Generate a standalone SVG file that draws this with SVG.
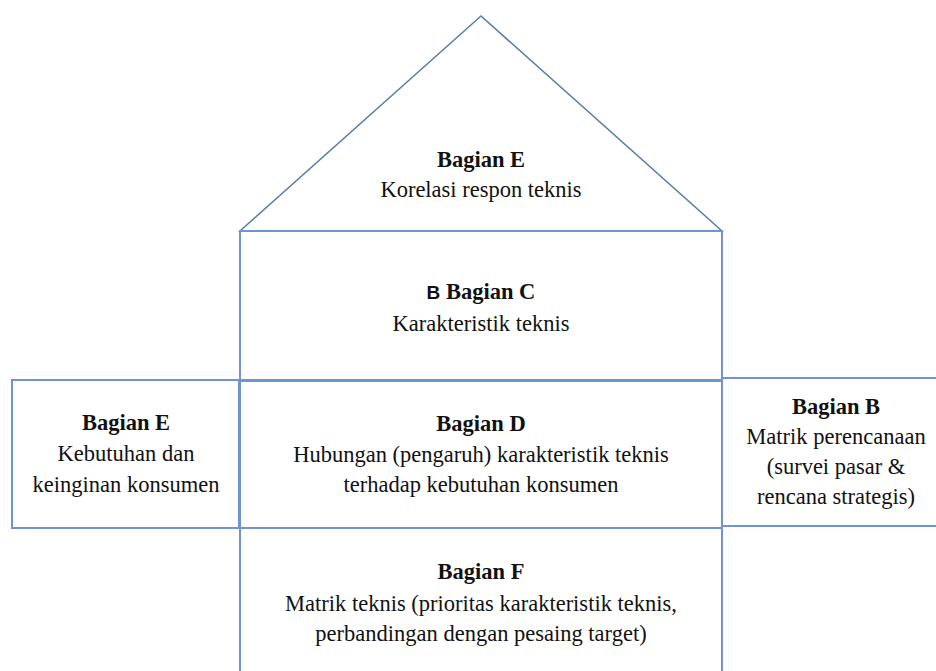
<svg xmlns="http://www.w3.org/2000/svg" width="936" height="671" viewBox="0 0 936 671">
<style>
.sh{fill:#fff;stroke:#6f95cc;stroke-width:2}
.tri{fill:#fff;stroke:#587cab;stroke-width:1.5}
</style>
<rect width="936" height="671" fill="#fff"/>
<g id="roof">
<polygon class="tri" points="481,16 240,231 722,231"/>
<text x="481" y="167" font-family="Liberation Serif" font-size="22.5" fill="#111" text-anchor="middle" font-weight="bold">Bagian E</text>
<text x="481" y="197" font-family="Liberation Serif" font-size="22.5" fill="#111" text-anchor="middle">Korelasi respon teknis</text>
</g>
<g id="bagianC">
<rect class="sh" x="240" y="231" width="482" height="149"/>
<text x="481" y="299" font-family="Liberation Serif" font-size="22.5" fill="#111" text-anchor="middle" font-weight="bold"><tspan font-family="Liberation Sans" font-size="19">B</tspan> Bagian C</text>
<text x="481" y="331" font-family="Liberation Serif" font-size="22.5" fill="#111" text-anchor="middle">Karakteristik teknis</text>
</g>
<g id="bagianA">
<rect class="sh" x="12" y="380" width="227" height="148"/>
<text x="126" y="430" font-family="Liberation Serif" font-size="22.5" fill="#111" text-anchor="middle" font-weight="bold">Bagian E</text>
<text x="126" y="461" font-family="Liberation Serif" font-size="22.5" fill="#111" text-anchor="middle">Kebutuhan dan</text>
<text x="126" y="492" font-family="Liberation Serif" font-size="22.5" fill="#111" text-anchor="middle">keinginan konsumen</text>
</g>
<g id="bagianB">
<rect class="sh" x="722" y="378" width="220" height="148"/>
<text x="836" y="414" font-family="Liberation Serif" font-size="22.5" fill="#111" text-anchor="middle" font-weight="bold">Bagian B</text>
<text x="836" y="444" font-family="Liberation Serif" font-size="22.5" fill="#111" text-anchor="middle">Matrik perencanaan</text>
<text x="836" y="474" font-family="Liberation Serif" font-size="22.5" fill="#111" text-anchor="middle">(survei pasar &amp;</text>
<text x="836" y="504" font-family="Liberation Serif" font-size="22.5" fill="#111" text-anchor="middle">rencana strategis)</text>
</g>
<g id="bagianD">
<rect class="sh" x="240" y="381" width="482" height="147"/>
<text x="481" y="431" font-family="Liberation Serif" font-size="22.5" fill="#111" text-anchor="middle" font-weight="bold">Bagian D</text>
<text x="481" y="462" font-family="Liberation Serif" font-size="22.5" fill="#111" text-anchor="middle">Hubungan (pengaruh) karakteristik teknis</text>
<text x="481" y="492" font-family="Liberation Serif" font-size="22.5" fill="#111" text-anchor="middle">terhadap kebutuhan konsumen</text>
</g>
<g id="bagianF">
<rect class="sh" x="240" y="528" width="482" height="160"/>
<text x="481" y="579" font-family="Liberation Serif" font-size="22.5" fill="#111" text-anchor="middle" font-weight="bold">Bagian F</text>
<text x="481" y="611" font-family="Liberation Serif" font-size="22.5" fill="#111" text-anchor="middle">Matrik teknis (prioritas karakteristik teknis,</text>
<text x="481" y="641" font-family="Liberation Serif" font-size="22.5" fill="#111" text-anchor="middle">perbandingan dengan pesaing target)</text>
</g>
<g id="connectors"></g>
</svg>
